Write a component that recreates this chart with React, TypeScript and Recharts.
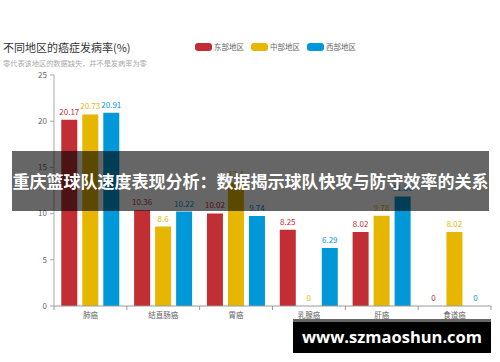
import { BarChart, Bar, XAxis, YAxis, LabelList } from "recharts";

const categories = ["肺癌", "结直肠癌", "胃癌", "乳腺癌", "肝癌", "食道癌"];
const eastValues = [20.17, 10.36, 10.02, 8.25, 8.02, 0];
const centralValues = [20.73, 8.6, 13.4, 0, 9.78, 8.02];
const westValues = [20.91, 10.22, 9.74, 6.29, 11.86, 0];
const yTicks = [0, 5, 10, 15, 20, 25];

const series = [
  { key: "east", name: "东部地区", color: "#c12e34" },
  { key: "central", name: "中部地区", color: "#e6b600" },
  { key: "west", name: "西部地区", color: "#0098d9" },
];

const data = categories.map((name, i) => ({
  name,
  east: eastValues[i],
  central: centralValues[i],
  west: westValues[i],
}));

const FONT = '"Noto Sans CJK SC", "Noto Sans", sans-serif';
const W = 500;
const H = 362;
const M = { top: 75, right: 9, left: 0, bottom: 36 };
const Y_W = 54;

// echarts 风格：刻度线落在类目边界上，而不是类目中心
function CatTick(props: any) {
  const { x, y, payload, index } = props;
  const fallback = (W - Y_W - M.right) / categories.length / 2;
  const half = payload && payload.offset ? payload.offset : fallback;
  const last = index === categories.length - 1;
  return (
    <g>
      <line x1={x - half} x2={x - half} y1={y} y2={y + 4} stroke="#999" />
      {last && <line x1={x + half} x2={x + half} y1={y} y2={y + 4} stroke="#999" />}
      <text
        x={x}
        y={y + 8}
        textAnchor="middle"
        dominantBaseline="central"
        fontSize={7.5}
        fill="#666"
        fontFamily={FONT}
      >
        {payload.value}
      </text>
    </g>
  );
}

// 值为 0 的柱子也要显示标签，给一个看不见的极小高度
const zeroMin = (v: any) => (v === 0 ? 0.01 : 0);

export default function App() {
  return (
    <div style={{ position: "relative", width: W, height: H, background: "#fff", overflow: "hidden" }}>
      <style>{"body{margin:0}"}</style>
      <div style={{ position: "absolute", left: 3, top: 40, fontFamily: FONT, fontSize: 11, color: "#333", lineHeight: "14px" }}>
        不同地区的癌症发病率(%)
      </div>
      <div style={{ position: "absolute", left: 3, top: 58, fontFamily: FONT, fontSize: 7.2, color: "#aaa", lineHeight: "10px" }}>
        零代表该地区的数据缺失，并不是发病率为零
      </div>
      <div
        style={{
          position: "absolute",
          left: 195,
          top: 42,
          display: "flex",
          alignItems: "center",
          fontFamily: FONT,
          fontSize: 7.5,
          color: "#666",
          lineHeight: "10px",
        }}
      >
        {series.map((s) => (
          <div key={s.key} style={{ display: "flex", alignItems: "center", marginRight: 7 }}>
            <span
              style={{ width: 17, height: 8, borderRadius: 3, background: s.color, marginRight: 2, display: "inline-block" }}
            />
            <span>{s.name}</span>
          </div>
        ))}
      </div>
      <BarChart width={W} height={H} data={data} margin={M} barCategoryGap="10%" barGap={5}>
        <XAxis
          dataKey="name"
          height={20}
          tickSize={0}
          tickMargin={0}
          tickLine={false}
          axisLine={{ stroke: "#999" }}
          tick={<CatTick />}
          interval={0}
        />
        <YAxis
          width={Y_W}
          domain={[0, 25]}
          ticks={yTicks}
          tickSize={4}
          tickMargin={3}
          axisLine={{ stroke: "#aaa" }}
          tickLine={{ stroke: "#aaa" }}
          tick={{ fontSize: 8, fill: "#666", fontFamily: FONT }}
        />
        {series.map((s) => (
          <Bar
            key={s.key}
            dataKey={s.key}
            name={s.name}
            fill={s.color}
            minPointSize={zeroMin}
            isAnimationActive={false}
          >
            <LabelList
              dataKey={s.key}
              position="top"
              offset={5}
              fill={s.color}
              fontSize={8}
              fontFamily={FONT}
            />
          </Bar>
        ))}
      </BarChart>
      <div
        style={{
          position: "absolute",
          left: 12,
          top: 151,
          width: 477,
          height: 60,
          background: "rgba(0,0,0,0.6)",
          color: "#fff",
          fontFamily: FONT,
          fontWeight: 700,
          fontSize: 17,
          lineHeight: "60px",
          textAlign: "center",
          whiteSpace: "nowrap",
        }}
      >
        重庆篮球队速度表现分析：数据揭示球队快攻与防守效率的关系
      </div>
      <div
        style={{
          position: "absolute",
          left: 293,
          top: 319,
          width: 198,
          height: 34,
          boxSizing: "border-box",
          background: "#000",
          borderTop: "3px solid #666",
          color: "#fff",
          fontFamily: '"Open Sans", "Noto Sans", sans-serif',
          fontWeight: 700,
          fontSize: 16.5,
          lineHeight: "30px",
          textAlign: "center",
          whiteSpace: "nowrap",
        }}
      >
        www.szmaoshun.com
      </div>
    </div>
  );
}
